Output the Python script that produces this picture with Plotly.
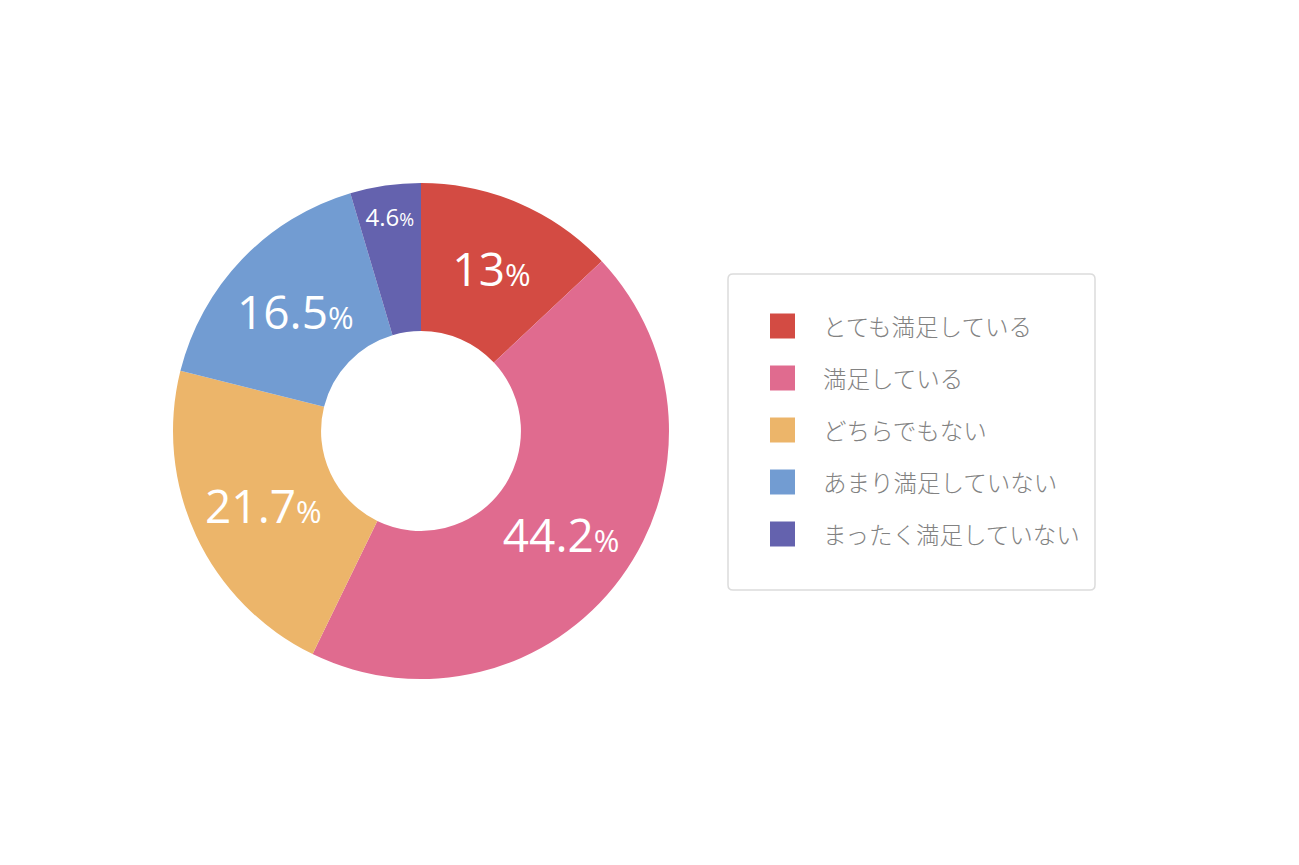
import plotly.graph_objects as go

# survey answers (satisfaction)
labels = [
    "とても満足している",
    "満足している",
    "どちらでもない",
    "あまり満足していない",
    "まったく満足していない",
]
values = [13, 44.2, 21.7, 16.5, 4.6]
colors = ["#d34b43", "#e06b8f", "#ecb56a", "#729cd2", "#6462ae"]

num_sizes = [46, 46, 46, 46, 24]
pct_sizes = [31, 31, 31, 31, 18]

W, H = 1299, 865
OFF = 8  # page body margin pushes the figure 8px right/down

# slice labels: number big, % sign smaller
texts = [
    f"{v:g}<span style='font-size:{p}px'>%</span>"
    for v, p in zip(values, pct_sizes)
]

cx, cy, r = 421 - OFF, 434 + OFF, 248  # pie centre (px from left / bottom) and radius

fig = go.Figure()
fig.add_trace(
    go.Pie(
        labels=labels,
        values=values,
        text=texts,
        textinfo="text",
        textposition="inside",
        insidetextorientation="horizontal",
        textfont=dict(family="Open Sans", color="white", size=num_sizes),
        marker=dict(colors=colors, line=dict(width=0)),
        hole=0.403,
        sort=False,
        direction="clockwise",
        rotation=0,
        showlegend=False,
        domain=dict(
            x=[(cx - r) / W, (cx + r) / W],
            y=[(cy - r) / H, (cy + r) / H],
        ),
    )
)


def px(x):
    return (x - OFF) / W


def py(y):  # y measured from top of page
    return 1 - (y - OFF) / H


# legend box drawn by hand (bigger swatches and wider spacing than plotly's legend)
bx0, bx1, by0, by1, rad = 728, 1095, 274, 590, 5
sw_x0, sw_size, first_cy, step, text_x = 770, 25, 326, 52, 821

box_path = (
    f"M{px(bx0 + rad)},{py(by0)} L{px(bx1 - rad)},{py(by0)} "
    f"Q{px(bx1)},{py(by0)} {px(bx1)},{py(by0 + rad)} "
    f"L{px(bx1)},{py(by1 - rad)} Q{px(bx1)},{py(by1)} {px(bx1 - rad)},{py(by1)} "
    f"L{px(bx0 + rad)},{py(by1)} Q{px(bx0)},{py(by1)} {px(bx0)},{py(by1 - rad)} "
    f"L{px(bx0)},{py(by0 + rad)} Q{px(bx0)},{py(by0)} {px(bx0 + rad)},{py(by0)} Z"
)
shapes = [
    dict(
        type="path", xref="paper", yref="paper", path=box_path,
        line=dict(color="#dcdcdc", width=1.5),
        fillcolor="white", layer="below",
    )
]
annotations = []
for i, (lab, col) in enumerate(zip(labels, colors)):
    yc = first_cy + i * step
    shapes.append(
        dict(
            type="rect", xref="paper", yref="paper",
            x0=px(sw_x0), x1=px(sw_x0 + sw_size),
            y0=py(yc + sw_size / 2), y1=py(yc - sw_size / 2),
            line=dict(width=0), fillcolor=col,
        )
    )
    annotations.append(
        dict(
            text=lab, xref="paper", yref="paper",
            x=px(text_x), y=py(yc),
            xanchor="left", yanchor="middle", showarrow=False,
            font=dict(family="Noto Sans CJK JP", size=23.5, color="#828282", weight=300),
        )
    )

fig.update_layout(
    width=W,
    height=H,
    margin=dict(l=0, r=0, t=0, b=0),
    paper_bgcolor="white",
    plot_bgcolor="white",
    shapes=shapes,
    annotations=annotations,
)

fig.write_html("out.html")
